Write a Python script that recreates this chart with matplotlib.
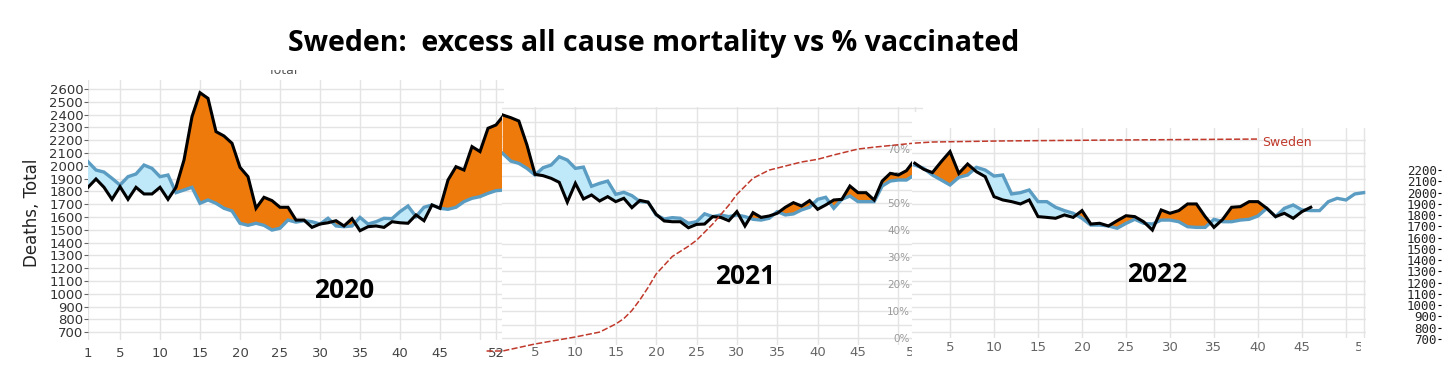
import numpy as np
import matplotlib
matplotlib.use('Agg')
import matplotlib.pyplot as plt
from matplotlib.patches import Rectangle

# weekly deaths (black) vs expected (blue), Sweden
weeks_2020 = np.arange(1, 54)
deaths_2020 = np.array([1832, 1897, 1832, 1738, 1837, 1738, 1832, 1780, 1780, 1832,
                        1738, 1832, 2045, 2384, 2571, 2527, 2267, 2233, 2176, 1988,
                        1915, 1668, 1754, 1728, 1676, 1676, 1576, 1576, 1519, 1545,
                        1555, 1571, 1530, 1587, 1493, 1524, 1530, 1519, 1563, 1555,
                        1551, 1616, 1571, 1694, 1668, 1889, 1993, 1967, 2150, 2111,
                        2293, 2319, 2397])
expected_2020 = np.array([2032, 1967, 1951, 1902, 1850, 1915, 1936, 2006, 1980, 1915,
                          1928, 1790, 1811, 1832, 1707, 1733, 1707, 1668, 1647, 1551,
                          1535, 1551, 1535, 1498, 1512, 1576, 1560, 1571, 1563, 1545,
                          1590, 1530, 1524, 1530, 1597, 1545, 1563, 1590, 1587, 1642,
                          1686, 1603, 1676, 1694, 1668, 1660, 1676, 1720, 1746, 1759,
                          1785, 1806, 1811])

weeks_2021 = np.arange(1, 53)
deaths_2021 = np.array([2397, 2376, 2350, 2163, 1933, 1923, 1902, 1871, 1716, 1863,
                        1741, 1772, 1725, 1759, 1720, 1746, 1673, 1730, 1716, 1621,
                        1569, 1563, 1563, 1516, 1542, 1545, 1603, 1597, 1571, 1642,
                        1530, 1634, 1597, 1608, 1629, 1676, 1712, 1686, 1728, 1660,
                        1694, 1733, 1738, 1842, 1790, 1790, 1733, 1881, 1941, 1928,
                        1962, 2045])
expected_2021 = np.array([2097, 2037, 2019, 1980, 1928, 1985, 2006, 2071, 2045, 1980,
                          1990, 1840, 1863, 1881, 1777, 1793, 1767, 1720, 1716, 1616,
                          1584, 1595, 1590, 1551, 1563, 1625, 1603, 1616, 1603, 1616,
                          1603, 1582, 1576, 1590, 1642, 1616, 1624, 1655, 1676, 1738,
                          1754, 1668, 1738, 1764, 1720, 1720, 1720, 1842, 1881, 1889,
                          1889, 1928])

weeks_2022 = np.arange(1, 53)
deaths_2022 = np.array([2020, 1973, 1947, 2032, 2111, 1941, 2014, 1954, 1915, 1759,
                        1733, 1720, 1702, 1733, 1603, 1597, 1590, 1616, 1597, 1650,
                        1545, 1551, 1530, 1571, 1610, 1603, 1563, 1498, 1655, 1629,
                        1650, 1702, 1702, 1603, 1519, 1582, 1676, 1681, 1720, 1720,
                        1668, 1603, 1629, 1590, 1642, 1676])
expected_2022 = np.array([2006, 1980, 1928, 1889, 1850, 1910, 1928, 1988, 1967, 1920,
                          1928, 1780, 1790, 1811, 1720, 1720, 1676, 1650, 1629, 1590,
                          1537, 1537, 1530, 1512, 1550, 1582, 1551, 1545, 1576, 1576,
                          1563, 1524, 1519, 1519, 1582, 1563, 1563, 1576, 1582, 1608,
                          1668, 1603, 1668, 1694, 1655, 1650, 1650, 1720, 1746, 1733,
                          1780, 1790])

# % vaccinated (week -1 = late Dec 2020)
vax_weeks_2021 = [-1, 1, 5, 10, 13, 15, 16, 17, 18, 19, 20, 22, 24, 25, 27, 29, 30,
                  32, 34, 36, 38, 40, 42, 45, 47, 52]
vax_pct_2021 = [0, 0, 2.6, 5.2, 7, 10, 12, 15, 19, 23.5, 28.5, 35, 38.8, 41, 47, 54,
                58, 64, 67, 68.5, 70, 71, 72.6, 74.8, 75.5, 77]
vax_weeks_2022 = [1, 3, 11, 22, 40]
vax_pct_2022 = [77, 77.4, 77.8, 78.1, 78.5]

death_ticks = np.arange(700, 2700, 100)
right_ticks = np.arange(700, 2300, 100)
pct_ticks = np.arange(0, 80, 10)

ORANGE = '#ee7a0c'
LIGHTBLUE = '#bfe8f8'
BLUE = '#5b9cc2'
GRID = '#e4e4e4'
RED = '#c0392b'

W, H = 1456, 373
fig = plt.figure(figsize=(W / 100, H / 100), dpi=100)


def px_axes(x0, y0, x1, y1, **kw):
    return fig.add_axes([x0 / W, 1 - y1 / H, (x1 - x0) / W, (y1 - y0) / H], **kw)


def px_cover(x0, y0, x1, y1, z):
    fig.add_artist(Rectangle((x0 / W, 1 - y1 / H), (x1 - x0) / W, (y1 - y0) / H,
                             transform=fig.transFigure, facecolor='white',
                             edgecolor='none', zorder=z))


def death_at(ypx):
    # shared pixel -> deaths scale of the pasted panels
    return 2600 - (ypx - 89) / 0.128


def strip(ax):
    for s in ax.spines.values():
        s.set_visible(False)


def draw_panel(ax, weeks, actual, expected):
    n = len(actual)
    w = weeks[:n]
    e = expected[:n]
    ax.fill_between(w, actual, e, where=actual >= e, interpolate=True,
                    color=ORANGE, lw=0)
    ax.fill_between(w, actual, e, where=actual < e, interpolate=True,
                    color=LIGHTBLUE, lw=0)
    ax.plot(weeks, expected, color=BLUE, lw=2.4, solid_joinstyle='miter')
    ax.plot(w, actual, color='black', lw=2.2, solid_joinstyle='miter')


xt = [5, 10, 15, 20, 25, 30, 35, 40, 45, 50, 52]
xl = ['5', '10', '15', '20', '25', '30', '35', '40', '45', '', '52']

"""2020"""
ax1 = px_axes(88, 80, 504, 340, zorder=1)
strip(ax1)
ax1.set_xlim(1, 53)
ax1.set_ylim(death_at(340), death_at(80))
ax1.set_yticks(death_ticks)
ax1.set_xticks([1] + xt, ['1'] + xl)
ax1.grid(color=GRID, lw=1)
ax1.tick_params(axis='y', length=3, width=0.8, color='#666', pad=0.5,
                labelsize=9.5, labelcolor='#333')
ax1.tick_params(axis='x', length=0, pad=5, labelsize=9.5, labelcolor='#444')
draw_panel(ax1, weeks_2020, deaths_2020, expected_2020)
ax1.set_axisbelow(True)

ax_t = px_axes(230, 70, 340, 80, zorder=1)
ax_t.axis('off')
ax_t.text(0.48, 0.9, 'Total', transform=ax_t.transAxes, ha='center',
          va='center', fontsize=9, color='#555', clip_on=True)

"""2021"""
ax2p = px_axes(501.9, 107, 922.6, 345, zorder=2)
strip(ax2p)
ax2p.set_xlim(0.9, 53)
ax2p.set_ylim((338 - 345) / 2.7, (338 - 107) / 2.7)
ax2p.set_yticks(np.arange(0, 90, 5), minor=False)
ax2p.set_yticklabels(['%d%%' % p if p in pct_ticks else '' for p in np.arange(0, 90, 5)])
ax2p.yaxis.tick_right()
ax2p.tick_params(axis='y', length=0, pad=-12.6 * 0.72, labelsize=7.5,
                 labelcolor='#9a9a9a')
plt.setp(ax2p.get_yticklabels(), ha='right')
ax2p.set_xticks(xt, xl)
ax2p.tick_params(axis='x', length=0, pad=1, labelsize=9.5, labelcolor='#666')
ax2p.grid(color=GRID, lw=1)

ax2 = px_axes(501.9, 107, 922.6, 345, zorder=2.1)
ax2.patch.set_alpha(0)
strip(ax2)
ax2.set_xlim(0.9, 53)
ax2.set_ylim(death_at(345), death_at(107))
ax2.set_xticks([])
ax2.set_yticks([])
draw_panel(ax2, weeks_2021, deaths_2021, expected_2021)

ax2v = px_axes(501.9, 107, 922.6, 345, zorder=2.2)
ax2v.patch.set_alpha(0)
ax2v.axis('off')
ax2v.set_xlim(0.9, 53)
ax2v.set_ylim((351 - 345) / 2.7, (351 - 107) / 2.7)
ax2v.plot(vax_weeks_2021, vax_pct_2021, color=RED, lw=1.1,
          ls=(0, (4, 1.5)), clip_on=False)

"""2022"""
px_cover(912, 112, 1372, 368, 2.5)

ax3 = px_axes(912, 128, 1366.2, 338, zorder=3)
ax3.patch.set_alpha(0)
strip(ax3)
ax3.set_xlim(0.68, 52.3)
ax3.set_ylim(death_at(338), death_at(128))
ax3.set_yticks(np.arange(700, 2300, 100))
ax3.tick_params(axis='y', length=0, labelleft=False)
ax3.set_xticks(xt, xl)
ax3.tick_params(axis='x', length=0, pad=2, labelsize=9.5, labelcolor='#666')
ax3.grid(color=GRID, lw=1)
ax3.set_axisbelow(True)
draw_panel(ax3, weeks_2022, deaths_2022, expected_2022)
# the pasted panel is cut just after the "5" of 52
px_cover(1361, 340, 1380, 368, 3.1)

ax3v = px_axes(912, 128, 1366.2, 338, zorder=3.2)
ax3v.patch.set_alpha(0)
ax3v.axis('off')
ax3v.set_xlim(0.68, 52.3)
ax3v.set_ylim((351 - 338) / 2.7, (351 - 128) / 2.7)
ax3v.plot(vax_weeks_2022, vax_pct_2022, color=RED, lw=1.1,
          ls=(0, (4, 1.5)), clip_on=False)
ax3v.text(40.5, 77.3, 'Sweden', color=RED, fontsize=9, ha='left',
          va='center', clip_on=False)

# stray deaths axis pasted at the far right
ax_r = px_axes(1441, 160, 1450, 345, zorder=3.3)
ax_r.patch.set_alpha(0)
strip(ax_r)
ax_r.set_xticks([])
ax_r.set_ylim(2200 - (345 - 170) * 1500 / 169, 2200 + 10 * 1500 / 169)
ax_r.set_yticks(right_ticks)
ax_r.tick_params(axis='y', length=2.5, width=0.8, pad=0.5, labelsize=9,
                 labelcolor='#222')
for lab in ax_r.get_yticklabels():
    lab.set_family('DejaVu Sans Mono')

"""Texts"""
fig.text(654 / W, 1 - 44 / H, 'Sweden:  excess all cause mortality vs % vaccinated',
         ha='center', va='center', fontsize=20.5, fontweight='bold',
         family='Open Sans')
fig.text(32 / W, 1 - 213 / H, 'Deaths, Total', rotation=90, ha='center',
         va='center', fontsize=12, color='#222')
for label, x, y in [('2020', 344, 291), ('2021', 745, 277), ('2022', 1157, 274)]:
    fig.text(x / W, 1 - y / H, label, ha='center', va='center', fontsize=19,
             fontweight='bold', family='Open Sans', zorder=5)

fig.savefig('out.png', dpi=100)
